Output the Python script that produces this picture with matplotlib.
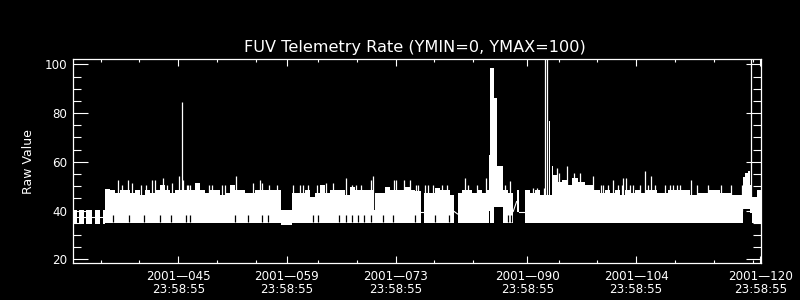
import matplotlib
matplotlib.use("Agg")
import matplotlib.pyplot as plt
from matplotlib.ticker import FixedLocator, MultipleLocator

# envelope of the telemetry trace: edges (day of year), upper and lower value per step
env_edges = [31.44, 31.95, 32.27, 32.85, 33.17, 33.95, 34.27, 34.98, 35.30,
             35.56, 36.20, 36.85, 37.49, 38.13, 38.78, 39.42, 40.07, 40.71, 41.35,
             42.00, 42.64, 43.29, 43.93, 44.58, 45.22, 45.86, 46.51, 47.15, 47.80,
             48.44, 49.08, 49.73, 50.37, 51.02, 51.66, 52.30, 52.95, 53.59, 54.24,
             54.88, 55.53, 56.17, 56.81, 57.46, 58.23, 59.69, 60.03, 60.68, 61.32,
             61.97, 62.61, 63.25, 63.90, 64.54, 65.19, 65.83, 66.48, 67.12, 67.76,
             68.41, 69.05, 69.70, 70.15, 70.40, 70.98, 71.63, 72.27, 72.92, 73.56,
             74.20, 74.85, 75.49, 76.23, 76.65, 77.42, 78.07, 78.71, 79.36, 80.00,
             80.56, 80.99, 81.55, 82.19, 82.83, 83.48, 84.12, 84.77, 85.03, 85.22,
             85.63, 86.02, 86.06, 86.79, 87.47, 88.16, 88.60, 88.93, 89.66, 90.31,
             90.95, 91.60, 92.24, 92.76, 92.88, 93.14, 93.31, 93.75, 94.39, 95.03,
             95.68, 96.53, 97.39, 98.46, 99.32, 99.97, 100.61, 101.26, 101.90, 102.55,
             103.19, 103.83, 104.48, 105.12, 105.77, 106.63, 107.31, 108.12, 108.99,
             109.89, 110.92, 111.95, 113.24, 114.01, 114.78, 115.56, 116.33, 117.36,
             117.78, 118.00, 118.43, 118.69, 118.99, 119.59, 120.05]
env_top = [40.3, 37.5, 40.3, 37.5, 40.3, 37.5, 40.3, 37.5,
           40.3, 49.0, 48.5, 47.4, 48.5, 48.5, 47.4, 48.5, 46.4, 48.5,
           47.4, 48.5, 50.5, 48.5, 47.4, 48.5, 48.5, 48.5, 48.5, 51.5,
           48.5, 47.4, 48.5, 48.5, 46.4, 47.4, 50.5, 48.5, 48.5, 47.4,
           47.4, 48.5, 48.5, 48.5, 48.5, 48.5, 40.3, 47.4, 47.4, 47.4,
           48.5, 45.7, 47.4, 50.5, 47.4, 48.5, 48.5, 48.5, 46.4, 49.5,
           48.5, 48.5, 48.5, 48.5, 40.3, 47.4, 47.4, 49.5, 48.5, 48.5,
           48.5, 49.5, 48.5, 48.0, 39.6, 47.4, 47.4, 49.4, 48.5, 48.5,
           46.4, 39.3, 47.4, 48.5, 48.5, 47.4, 48.5, 47.4, 48.5, 62.9,
           98.5, 86.2, 86.0, 58.1, 48.5, 47.4, 41.0, 48.5, 39.6, 48.5,
           47.4, 48.5, 46.4, 46.4, 76.6, 46.4, 58.4, 54.7, 51.9, 52.4,
           50.5, 53.3, 51.9, 50.5, 48.5, 47.4, 48.5, 47.4, 48.5, 46.4,
           48.5, 47.4, 48.5, 47.4, 48.5, 48.5, 47.4, 47.4, 48.5, 48.5,
           48.5, 46.4, 47.4, 48.5, 48.5, 47.4, 47.4, 46.4, 46.4, 53.8,
           55.6, 56.4, 50.5, 45.7, 48.5]
env_bot = [34.6, 37.5, 34.6, 37.5, 34.6, 37.5, 34.6, 37.5,
           34.6, 35.0, 35.0, 35.0, 35.0, 35.0, 35.0, 35.0, 35.0, 35.0,
           35.0, 35.0, 35.0, 35.0, 35.0, 35.0, 35.0, 35.0, 35.0, 35.0,
           35.0, 35.0, 35.0, 35.0, 35.0, 35.0, 35.0, 35.0, 35.0, 35.0,
           35.0, 35.0, 35.0, 35.0, 35.0, 35.0, 34.1, 35.0, 35.0, 35.0,
           35.0, 35.0, 35.0, 35.0, 35.0, 35.0, 35.0, 35.0, 35.0, 35.0,
           35.0, 35.0, 35.0, 35.0, 35.0, 35.0, 35.0, 35.0, 35.0, 35.0,
           35.0, 35.0, 35.0, 35.0, 39.6, 35.0, 35.0, 35.0, 35.0, 35.0,
           35.0, 39.3, 35.0, 35.0, 35.0, 35.0, 35.0, 35.0, 35.0, 40.0,
           35.0, 41.6, 35.0, 41.6, 35.0, 35.0, 41.0, 39.6, 39.6, 35.0,
           35.0, 35.0, 35.0, 35.0, 35.0, 35.0, 35.0, 35.0, 35.0, 35.0,
           35.0, 35.0, 35.0, 35.0, 35.0, 35.0, 35.0, 35.0, 35.0, 35.0,
           35.0, 35.0, 35.0, 35.0, 35.0, 35.0, 35.0, 35.0, 35.0, 35.0,
           35.0, 35.0, 35.0, 35.0, 35.0, 35.0, 35.0, 35.0, 35.0, 40.5,
           40.5, 40.5, 39.0, 35.0, 35.0]

# single-sample spikes above the envelope (day, peak value)
spike_day = [37.27, 37.71, 38.48, 38.99, 40.16, 40.84, 41.57, 42.00, 42.99, 43.51,
             44.15, 45.13, 45.48, 45.64, 46.08, 46.29, 46.55, 48.99, 49.34, 50.63,
             51.02, 52.43, 54.66, 55.53, 55.74, 56.69, 57.72, 59.81, 60.68, 61.10,
             61.71, 62.83, 63.51, 64.03, 64.97, 66.64, 67.34, 67.89, 68.54, 69.82,
             70.12, 72.79, 73.05, 74.08, 74.85, 75.62, 75.92, 76.78, 77.21, 77.85,
             79.01, 79.58, 81.93, 82.36, 83.44, 84.64, 87.09, 87.73, 90.69, 91.21,
             92.11, 92.30, 92.47, 93.75, 94.08, 95.11, 96.02, 96.75, 98.46, 99.45,
             99.75, 100.39, 101.04, 101.68, 102.12, 102.33, 102.64, 103.19, 103.54,
             104.48, 105.12, 105.55, 105.90, 106.41, 107.70, 108.34, 108.77, 109.24,
             109.63, 111.05, 111.82, 113.28, 114.91, 116.20, 117.58, 118.74]
spike_top = [52.6, 50.5, 52.6, 51.5, 50.5, 50.5, 52.6, 52.6, 53.3, 50.5,
             51.5, 54.2, 84.4, 52.6, 50.5, 50.5, 50.5, 50.5, 50.5, 50.5,
             50.5, 54.2, 51.5, 52.6, 51.5, 50.5, 50.5, 50.5, 50.5, 50.5,
             50.5, 50.5, 50.5, 51.5, 51.5, 53.3, 50.5, 50.5, 50.5, 52.6,
             54.2, 52.6, 52.6, 52.6, 52.6, 50.5, 50.5, 50.5, 50.5, 50.5,
             50.5, 50.5, 53.3, 50.5, 50.5, 53.3, 50.5, 52.0, 49.4, 49.4,
             49.4, 110.0, 110.0, 57.5, 55.4, 58.4, 55.4, 55.4, 54.2, 50.5,
             50.5, 50.5, 52.6, 50.5, 50.5, 53.3, 53.3, 50.5, 50.5,
             50.5, 56.4, 50.5, 54.2, 50.5, 50.5, 50.5, 50.5, 50.5,
             50.5, 52.6, 50.5, 50.5, 50.5, 50.5, 50.5, 110.0]
spike_bot = 40.0

# short gaps where the minimum stayed higher
notch_day = [36.63, 38.69, 40.58, 42.64, 44.02, 45.99, 46.51, 52.30, 54.02, 55.74,
             56.60, 62.39, 63.03, 65.74, 66.56, 67.42, 68.19, 68.96, 69.82, 71.41,
             72.62, 75.49, 78.07, 79.87, 87.54, 87.86]
notch_top = 38.2

# connecting lines across data gaps (day0, day1, value0, value1)
gap_d0 = [31.95, 32.85, 33.95, 34.98, 76.23, 80.56, 88.16, 88.93]
gap_d1 = [32.27, 33.17, 34.27, 35.30, 76.65, 80.99, 88.60, 89.66]
gap_v0 = [37.5, 37.5, 37.5, 37.5, 39.6, 39.6, 39.6, 39.6]
gap_v1 = [37.5, 37.5, 37.5, 37.5, 39.6, 38.6, 43.7, 39.6]

title = "FUV Telemetry Rate (YMIN=0, YMAX=100)"
x_major = [45, 59, 73, 90, 104, 120]
x_labels = ["2001\u2014045\n23:58:55", "2001\u2014059\n23:58:55", "2001\u2014073\n23:58:55",
            "2001\u2014090\n23:58:55", "2001\u2014104\n23:58:55", "2001\u2014120\n23:58:55"]
x_minor = [35, 40, 50, 55, 63, 68, 78, 83, 94, 99, 109, 114, 119]
y_major = [20, 40, 60, 80, 100]

fig = plt.figure(figsize=(8, 3), dpi=100, facecolor="black")
ax = fig.add_axes([73 / 800, 36.7 / 300, 687.7 / 800, 204 / 300])
ax.set_facecolor("black")

ax.stairs(env_top, env_edges, baseline=env_bot, fill=True, color="white", lw=0)
ax.vlines(spike_day, spike_bot, spike_top, colors="white", lw=0.9)
ax.vlines(notch_day, 35.3, notch_top, colors="black", lw=0.9)
for d0, d1, v0, v1 in zip(gap_d0, gap_d1, gap_v0, gap_v1):
    ax.plot([d0, d1], [v0, v1], color="white", lw=0.8)

ax.set_xlim(31.44, 120.05)
ax.set_ylim(18.36, 102.06)

for s in ax.spines.values():
    s.set_color("white")
    s.set_linewidth(0.9)

ax.xaxis.set_major_locator(FixedLocator(x_major))
ax.xaxis.set_minor_locator(FixedLocator(x_minor))
ax.set_xticklabels(x_labels)
ax.yaxis.set_major_locator(FixedLocator(y_major))
ax.yaxis.set_minor_locator(MultipleLocator(5))

ax.tick_params(which="both", direction="in", colors="white", top=True, right=True,
               width=0.8, labelsize=8.6)
ax.tick_params(axis="x", which="major", length=5, pad=5)
ax.tick_params(axis="x", which="minor", length=2.5)
ax.tick_params(axis="y", which="major", length=10.8, pad=4)
ax.tick_params(axis="y", which="minor", length=5.5)
for lbl in ax.get_xticklabels():
    lbl.set_linespacing(0.95)

ax.set_ylabel("Raw Value", color="white", fontsize=9, labelpad=7)
fig.text(0.518, 0.843, title, color="white", fontsize=11.6, ha="center", va="center")

fig.savefig("out.png", dpi=100, facecolor="black")
